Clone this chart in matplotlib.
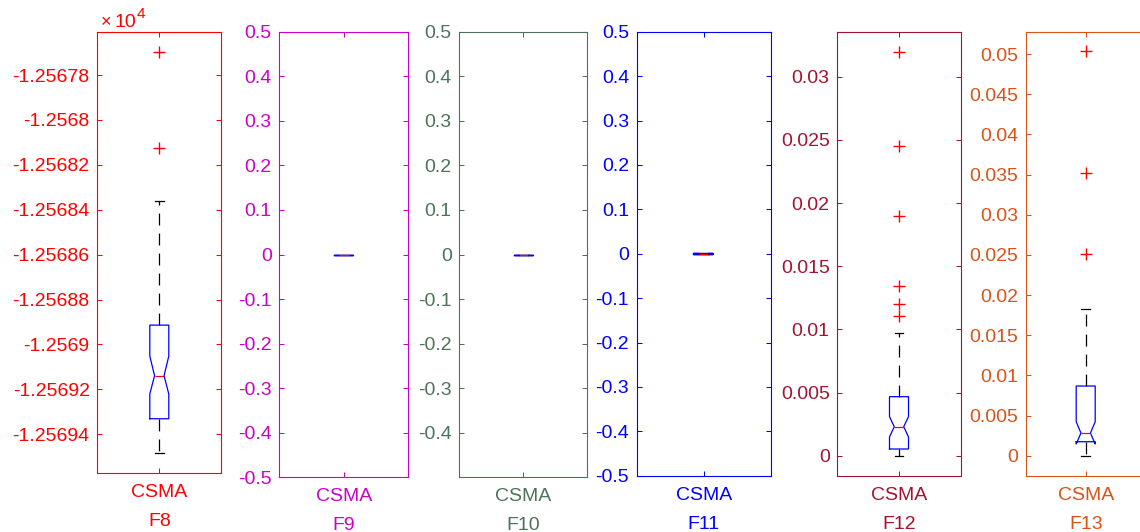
import numpy as np
import matplotlib
matplotlib.use('Agg')
import matplotlib.pyplot as plt
from matplotlib.ticker import FixedLocator, FuncFormatter

plt.rcParams['font.family'] = ['Liberation Sans', 'DejaVu Sans']

# ---------------- data ----------------
functions = ['F8', 'F9', 'F10', 'F11', 'F12', 'F13']
algorithm = 'CSMA'
colors = ['#FF0000', '#CC00CC', '#4D735A', '#0000FF', '#A2142F', '#D95319']

medians = [-12569.139, 0.0, 0.0, 0.0, 0.002295, 0.002825]
q1 = [-12569.331, 0.0, 0.0, 0.0, 0.00053, 0.00174]
q3 = [-12568.914, 0.0, 0.0, 0.0, 0.00467, 0.008675]
notch_lo = [-12569.221, 0.0, 0.0, 0.0, 0.00148, 0.00146]
notch_hi = [-12569.052, 0.0, 0.0, 0.0, 0.00309, 0.00423]
whisker_lo = [-12569.482, 0.0, 0.0, 0.0, 0.0, 0.0]
whisker_hi = [-12568.361, 0.0, 0.0, 0.0, 0.00969, 0.01822]
outliers = [
    [-12567.696, -12568.127],
    [],
    [],
    [],
    [0.03198, 0.02451, 0.01897, 0.01343, 0.01201, 0.01106],
    [0.05033, 0.03515, 0.0251],
]
y_limits = [(-12569.574, -12567.607), (-0.5, 0.5), (-0.5, 0.5), (-0.5, 0.5),
            (-0.001607, 0.03356), (-0.002527, 0.05278)]
y_ticks = [
    [-12569.4, -12569.2, -12569.0, -12568.8, -12568.6, -12568.4, -12568.2, -12568.0, -12567.8],
    [-0.5, -0.4, -0.3, -0.2, -0.1, 0.0, 0.1, 0.2, 0.3, 0.4, 0.5],
    [-0.4, -0.3, -0.2, -0.1, 0.0, 0.1, 0.2, 0.3, 0.4, 0.5],
    [-0.5, -0.4, -0.3, -0.2, -0.1, 0.0, 0.1, 0.2, 0.3, 0.4, 0.5],
    [0.0, 0.005, 0.01, 0.015, 0.02, 0.025, 0.03],
    [0.0, 0.005, 0.01, 0.015, 0.02, 0.025, 0.03, 0.035, 0.04, 0.045, 0.05],
]
y_scale = [1e4, 1, 1, 1, 1, 1]

# ---------------- layout (pixels: left, right, top, bottom) ----------------
W, H = 1140, 532
rects_px = [(97.3, 221.3, 31.7, 473.3), (279.3, 408.3, 31.7, 477.3),
            (459.3, 587.3, 31.7, 477.3), (636.7, 770.7, 31.7, 475.7),
            (837.3, 960.7, 31.7, 476.0), (1025.7, 1145.7, 31.7, 476.0)]

fig = plt.figure(figsize=(W / 100, H / 100), dpi=100)

for i, name in enumerate(functions):
    l, r, t, b = rects_px[i]
    ax = fig.add_axes([l / W, 1 - b / H, (r - l) / W, (b - t) / H])
    c = colors[i]
    axw = r - l
    bw = 19.0 / axw
    box_lw = 1.6 if i == 3 else 0.9
    stats = [dict(med=medians[i], q1=q1[i], q3=q3[i], cilo=notch_lo[i], cihi=notch_hi[i],
                  whislo=whisker_lo[i], whishi=whisker_hi[i],
                  fliers=np.array(outliers[i], dtype=float), label=algorithm)]
    ax.bxp(stats, positions=[1], widths=bw, capwidths=8.5 / axw, shownotches=True,
           showfliers=True,
           boxprops=dict(color='#0000FF', linewidth=box_lw),
           medianprops=dict(color='#FF0000', linewidth=0.9),
           whiskerprops=dict(color='black', linewidth=0.9, linestyle=(0, (9.5, 6.5))),
           capprops=dict(color='black', linewidth=0.9),
           flierprops=dict(marker='+', markeredgecolor='#FF0000', markersize=9,
                           markeredgewidth=1.0, linestyle='none'))
    ax.set_xlim(0.5, 1.5)
    ax.set_ylim(*y_limits[i])
    ax.yaxis.set_major_locator(FixedLocator(y_ticks[i]))
    sc = y_scale[i]
    ax.yaxis.set_major_formatter(FuncFormatter(lambda v, p, sc=sc: ('%.6g' % round(v / sc, 8))))
    ax.set_xticks([1])
    ax.set_xticklabels([algorithm])
    ax.set_xlabel(name, color=c, fontsize=14, labelpad=8.5)
    ax.tick_params(axis='both', direction='in', length=3.8, width=0.75, top=True, right=True,
                   colors=c, labelsize=14)
    ax.tick_params(axis='y', pad=5.5)
    ax.tick_params(axis='x', pad=8)
    for s in ax.spines.values():
        s.set_color(c)
        s.set_linewidth(0.8)
    if i == 0:
        fig.text(100.7 / W, 1 - 26.7 / H, '\u00d7', color=c, fontsize=13,
                 ha='left', va='baseline')
        fig.text(114.0 / W, 1 - 26.7 / H, '10', color=c, fontsize=14,
                 ha='left', va='baseline')
        fig.text(136.5 / W, 1 - 18.0 / H, '4', color=c, fontsize=11,
                 ha='left', va='baseline')

fig.savefig('out.png', dpi=100)
